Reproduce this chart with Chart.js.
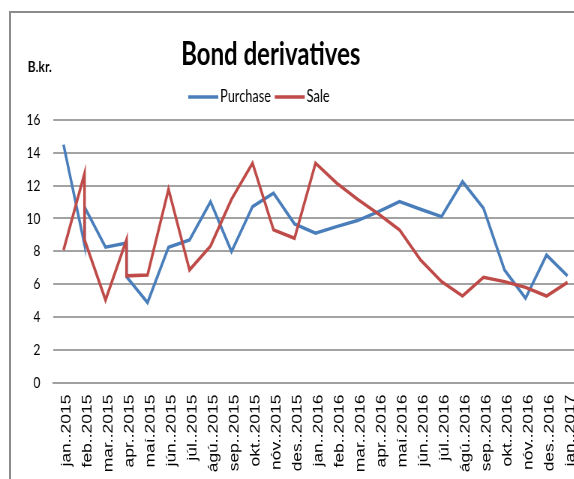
<!DOCTYPE html>
<html>
<head>
<meta charset="utf-8">
<title>Bond derivatives</title>
<script src="https://cdn.jsdelivr.net/npm/chart.js"></script>
<style>
  html, body { margin: 0; padding: 0; background: #fff; overflow: hidden; }
  .wrap { position: relative; width: 574px; height: 479px; overflow: hidden; }
  .frame { position: absolute; left: 9px; top: 11px; width: 700px; height: 600px;
           border-left: 2px solid #8c8c8c; border-top: 2px solid #8c8c8c; }
  /* the original picture is squeezed sideways, so draw wide and compress */
  #chart { position: absolute; left: 0; top: 0; transform: scaleX(0.75); transform-origin: 0 0; }
</style>
</head>
<body>
<div class="wrap">
  <div class="frame"></div>
  <canvas id="chart" width="790" height="479"></canvas>
</div>
<script>
const months = ['jan..2015', 'feb..2015', 'mar..2015', 'apr..2015', 'maí.2015', 'jún..2015',
  'júl..2015', 'ágú..2015', 'sep..2015', 'okt..2015', 'nóv..2015', 'des..2015',
  'jan..2016', 'feb..2016', 'mar..2016', 'apr..2016', 'maí.2016', 'jún..2016',
  'júl..2016', 'ágú..2016', 'sep..2016', 'okt..2016', 'nóv..2016', 'des..2016', 'jan..2017'];

// one value per month, a pair where the month was plotted twice
const purchase = [14.5, [8.4, 10.7], 8.25, [8.5, 6.45], 4.87, 8.24, 8.69, 11.02, 7.98, 10.72, 11.54, 9.66,
  9.1, 9.5, 9.87, 10.42, 11.03, 10.56, 10.11, 12.24, 10.62, 6.86, 5.13, 7.77, 6.5];
const sale = [8.07, [12.75, 8.7], 5.03, [8.7, 6.5], 6.55, 11.78, 6.86, 8.32, 11.17, 13.37, 9.3, 8.79,
  13.37, 12.16, 11.17, 10.27, 9.3, 7.47, 6.15, 5.27, 6.41, 6.15, 5.8, 5.27, 6.1];

const yTicks = [0, 2, 4, 6, 8, 10, 12, 14, 16];

function toPoints(values) {
  let pts = [];
  values.forEach((v, i) => {
    [].concat(v).forEach(y => pts.push({x: i, y: y}));
  });
  return pts;
}

// title, unit and legend drawn at the spots the excel chart had them
const header = {
  id: 'header',
  afterDraw(chart) {
    const ctx = chart.ctx;
    ctx.save();
    ctx.fillStyle = '#000';
    ctx.textBaseline = 'alphabetic';
    ctx.font = 'bold 32px Lato';
    ctx.textAlign = 'center';
    ctx.fillText('Bond derivatives', 361, 65);
    ctx.font = 'bold 16px Lato';
    ctx.textAlign = 'left';
    ctx.fillText('B.kr.', 37, 72);

    ctx.font = '17px Lato';
    let x = 251;
    chart.data.datasets.forEach(ds => {
      ctx.strokeStyle = ds.borderColor;
      ctx.lineWidth = 3.5;
      ctx.beginPath();
      ctx.moveTo(x, 97);
      ctx.lineTo(x + 40, 97);
      ctx.stroke();
      x += 42.5;
      ctx.fillText(ds.label, x, 101.7);
      x += ctx.measureText(ds.label).width + 5;
    });
    ctx.restore();
  }
};

new Chart(document.getElementById('chart'), {
  type: 'line',
  data: {
    datasets: [{
      label: 'Purchase',
      data: toPoints(purchase),
      borderColor: '#4a7ebb',
      backgroundColor: '#4a7ebb',
      borderWidth: 3.5,
      pointRadius: 0,
      tension: 0,
      order: 1
    }, {
      label: 'Sale',
      data: toPoints(sale),
      borderColor: '#be4b48',
      backgroundColor: '#be4b48',
      borderWidth: 3.5,
      pointRadius: 0,
      tension: 0,
      order: 0
    }]
  },
  options: {
    responsive: false,
    animation: false,
    devicePixelRatio: 1,
    layout: { padding: { top: 120, right: 16, bottom: 0, left: 0 } },
    plugins: {
      legend: { display: false },
      title: { display: false },
      tooltip: { enabled: false }
    },
    scales: {
      x: {
        type: 'linear',
        min: -0.5,
        max: months.length - 0.5,
        afterBuildTicks: s => { s.ticks = months.map((m, i) => ({ value: i })); },
        afterFit: s => { s.height = 96.5; },
        grid: { display: false, drawTicks: false },
        border: { display: true, color: '#a0a0a0', width: 2 },
        ticks: {
          autoSkip: false,
          maxRotation: 90,
          minRotation: 90,
          padding: 12,
          labelOffset: 4,
          color: '#000',
          font: { family: 'Liberation Sans', size: 17.5 },
          callback: v => months[v]
        }
      },
      y: {
        min: 0,
        max: 16,
        afterBuildTicks: s => { s.ticks = yTicks.map(v => ({ value: v })); },
        afterFit: s => { s.width = 70.7; },
        grid: { color: '#a3a3a3', lineWidth: 2, drawTicks: false },
        border: { display: false },
        ticks: {
          padding: 17,
          color: '#000',
          font: { family: 'Lato', size: 16 }
        }
      }
    }
  },
  plugins: [header]
});
</script>
</body>
</html>
